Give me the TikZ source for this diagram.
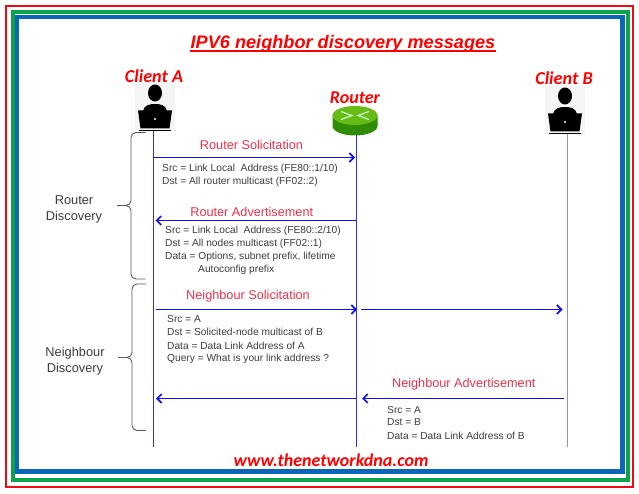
\documentclass[tikz,border=0pt]{standalone}
\usepackage{xcolor}
\usepackage{fontspec}
\usepackage{tikz}
\usetikzlibrary{arrows.meta, positioning}
\setmainfont{Liberation Sans}
\newfontfamily\calibrifont{Carlito}
\definecolor{framered}{HTML}{F00A14}
\definecolor{framegreen}{HTML}{0BA44C}
\definecolor{frameblue}{HTML}{0A66B8}
\definecolor{msgblue}{HTML}{1010F0}
\definecolor{lifeblue}{HTML}{3030E0}
\definecolor{lifepale}{HTML}{8C8CEC}
\definecolor{msgred}{HTML}{F0304A}
\definecolor{infogray}{HTML}{3C3C3C}
\definecolor{routertop}{HTML}{66BB14}
\definecolor{routerside}{HTML}{2E8C06}
\tikzset{
  headlabel/.style={text=red, font=\calibrifont\bfseries\itshape\fontsize{18.2}{20}\selectfont, inner sep=0pt},
  msglabel/.style={text=msgred, font=\fontsize{12.7}{14}\selectfont, inner sep=0pt},
  sidelabel/.style={text=infogray, font=\fontsize{12.8}{16}\selectfont, align=center, inner sep=0pt},
  infotext/.style={text=infogray, font=\fontsize{10.2}{13}\selectfont, align=left, anchor=north west, inner sep=0pt},
  msgarrow/.style={draw=msgblue, line width=1.7pt, -{Straight Barb[length=4.5pt,width=9pt]}},
  lifeline/.style={draw=lifeblue, line width=1pt},
  bracket/.style={draw=black!65, line width=0.9pt, rounded corners=5pt},
  clienticon/.pic={
    \fill[black!4] (-20,-24) rectangle (20,24);
    \fill[black] (0,-14) ellipse (7 and 8.5);
    \fill[black] (-12,4) .. controls (-11,-2) and (-5,-3) .. (0,-3) .. controls (5,-3) and (11,-2) .. (12,4) -- cycle;
    \fill[black] (-17,3.5) -- (17,3.5) -- (14.5,21.5) -- (-14.5,21.5) -- cycle;
    \draw[black, line width=0.9pt] (-16,23) -- (16,23);
    \fill[white] (0,12) circle (1.1);
    \coordinate (-foot) at (0,24);
  },
  routericon/.pic={
    \fill[routerside] (-22.5,-5) -- (-22.5,5.5) arc[start angle=180, end angle=0, x radius=22.5, y radius=9.5] -- (22.5,-5) -- cycle;
    \fill[routertop] (0,-5) ellipse (22.5 and 9.5);
    \draw[white!80!green, line width=1.2pt] (-14,-9) -- (-3,-5) -- (-14,-1) (14,-9) -- (3,-5) -- (14,-1);
    \coordinate (-foot) at (0,15);
  }
}
\begin{document}
\begin{tikzpicture}[x=1pt, y=-1pt, node distance=2cm]
    \useasboundingbox (0,0) rectangle (639,494);
    % frames
    \draw[framered, line width=2pt] (6,6) rectangle (633.3,487);
    \draw[framegreen, line width=4pt] (12.5,12.5) rectangle (628,480);
    \draw[frameblue, line width=4.5pt] (17,17) rectangle (622.5,471.5);

    \node[text=red, font=\bfseries\itshape\fontsize{18.15}{20}\selectfont, inner sep=0pt] (title) at (343,44) {IPV6 neighbor discovery messages};
    \draw[red, line width=1.6pt] ([yshift=-2.6pt]title.base west) -- ([yshift=-2.6pt]title.base east);
    \node[headlabel, font=\calibrifont\bfseries\itshape\fontsize{18}{22}\selectfont] (website) at (331,460) {www.thenetworkdna.com};

    \pic (clientA) at (155,107) {clienticon};
    \pic (clientB) at (565,110) {clienticon};
    \pic (router) at (355,120.5) {routericon};
    \node[headlabel] (clientAlabel) at (154,76) {Client A};
    \node[headlabel] (clientBlabel) at (564,78) {Client B};
    \node[headlabel, font=\calibrifont\bfseries\itshape\fontsize{18}{20}\selectfont] (routerlabel) at (355,97.5) {Router};

    \coordinate (clientAend) at (153.5,446.5);
    \coordinate (routerend) at (356,446.5);
    \coordinate (clientBend) at (567,446.5);
    \draw[lifeline] (clientAend |- clientA-foot) -- (clientAend);
    \draw[lifeline] (routerend |- router-foot) -- (routerend);
    \draw[lifeline, draw=lifepale] (clientBend |- clientB-foot) -- (clientBend);

    \coordinate (rsA) at (154,157.5);
    \coordinate (rsR) at (355,157.5);
    \coordinate (raR) at (356,220.5);
    \coordinate (raA) at (155.5,220.5);
    \coordinate (nsA) at (156,309.5);
    \coordinate (nsR) at (357,309.5);
    \coordinate (nsRb) at (361,309.5);
    \coordinate (nsB) at (562.5,309.5);
    \coordinate (naB) at (563.5,398.5);
    \coordinate (naR) at (362,398.5);
    \coordinate (naRb) at (356,398.5);
    \coordinate (naA) at (156,398.5);

    \draw[msgarrow] (rsA) -- node[msglabel, xshift=-3pt, yshift=13pt] (rslabel) {Router Solicitation} (rsR);
    \draw[msgarrow] (raR) -- node[msglabel, xshift=-4pt, yshift=8.5pt] (ralabel) {Router Advertisement} (raA);
    \draw[msgarrow] (nsA) -- node[msglabel, xshift=-8.5pt, yshift=13.5pt] (nslabel) {Neighbour Solicitation} (nsR);
    \draw[msgarrow] (nsRb) -- (nsB);
    \draw[msgarrow] (naB) -- node[msglabel, xshift=1pt, yshift=14pt] (nalabel) {Neighbour Advertisement} (naR);
    \draw[msgarrow] (naRb) -- (naA);

    \node[infotext] (rsinfo) at (162,163.5) {Src = Link Local\ \ Address (FE80::1/10)\\Dst = All router multicast (FF02::2)};
    \node[infotext] (rainfo) at (165,226) {Src = Link Local\ \ Address (FE80::2/10)\\Dst = All nodes multicast (FF02::1)\\Data = Options, subnet prefix, lifetime\\\hspace{33pt}Autoconfig prefix};
    \node[infotext] (nsinfo) at (167,315.5) {Src = A\\Dst = Solicited-node multicast of B\\[0.7pt]Data = Data Link Address of A\\[-1pt]Query = What is your link address ?};
    \node[infotext] (nainfo) at (387,406) {Src = A\\[-1pt]Dst = B\\[1pt]Data = Data Link Address of B};

    \node[sidelabel] (rdlabel) at (74,209) {Router\\Discovery};
    \node[sidelabel] (ndlabel) at (75,361.5) {Neighbour\\Discovery};

    \coordinate (rdtop) at (145.5,132.5);
    \coordinate (rdmid) at (131,205.5);
    \coordinate (rdtip) at (117,205.5);
    \coordinate (rdbot) at (145.5,279);
    \coordinate (ndtop) at (146,284);
    \coordinate (ndmid) at (132,357.5);
    \coordinate (ndtip) at (118,357.5);
    \coordinate (ndbot) at (146,430.5);
    \draw[bracket] (rdtop) -| (rdmid) -- (rdtip);
    \draw[bracket] (rdbot) -| (rdmid) -- (rdtip);
    \draw[bracket] (ndtop) -| (ndmid) -- (ndtip);
    \draw[bracket] (ndbot) -| (ndmid) -- (ndtip);
  \end{tikzpicture}
\end{document}
